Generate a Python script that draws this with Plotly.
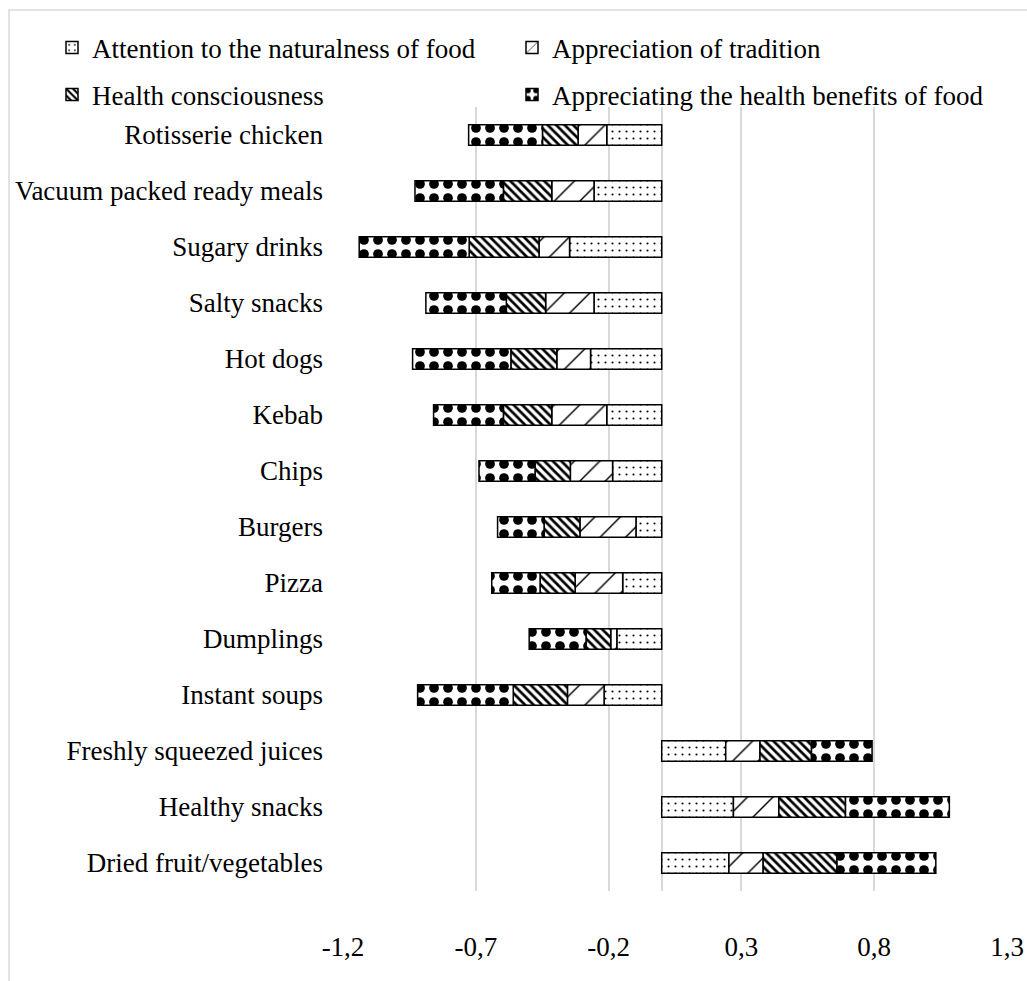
import plotly.graph_objects as go

categories = ["Rotisserie chicken", "Vacuum packed ready meals", "Sugary drinks", "Salty snacks",
              "Hot dogs", "Kebab", "Chips", "Burgers", "Pizza", "Dumplings", "Instant soups",
              "Freshly squeezed juices", "Healthy snacks", "Dried fruit/vegetables"]

naturalness = [-0.207, -0.255, -0.347, -0.255, -0.268, -0.207, -0.185, -0.097, -0.147, -0.169, -0.217,
               0.241, 0.270, 0.253]
tradition = [-0.108, -0.159, -0.115, -0.182, -0.127, -0.207, -0.159, -0.211, -0.179, -0.023, -0.138,
             0.129, 0.171, 0.129]
health_consciousness = [-0.134, -0.182, -0.263, -0.148, -0.173, -0.182, -0.133, -0.135, -0.132, -0.093, -0.204,
                        0.194, 0.251, 0.278]
health_benefits = [-0.278, -0.333, -0.414, -0.303, -0.370, -0.263, -0.211, -0.175, -0.182, -0.214, -0.360,
                   0.228, 0.391, 0.372]

series_names = ["Attention to the naturalness of food", "Appreciation of tradition",
                "Health consciousness", "Appreciating the health benefits of food"]
tick_vals = [-1.2, -0.7, -0.2, 0.3, 0.8, 1.3]
tick_text = ["-1,2", "-0,7", "-0,2", "0,3", "0,8", "1,3"]

FONT = "Liberation Serif, Times New Roman, serif"
FS = 27
patterns = [
    dict(shape=".", size=7, solidity=0.07, fgcolor="black", bgcolor="white", fgopacity=1),
    dict(shape="/", size=18, solidity=0.08, fgcolor="black", bgcolor="white", fgopacity=1),
    dict(shape="\\", size=6, solidity=0.45, fgcolor="black", bgcolor="white", fgopacity=1),
    dict(shape=".", size=14, solidity=0.38, fgcolor="black", bgcolor="white", fgopacity=1),
]
legend_ids = ["legend", "legend2", "legend3", "legend4"]

fig = go.Figure()
for name, vals, pat, lg in zip(series_names, [naturalness, tradition, health_consciousness, health_benefits],
                               patterns, legend_ids):
    fig.add_trace(go.Bar(
        y=categories, x=vals, name=name, orientation="h",
        marker=dict(color="white", line=dict(color="black", width=1.5), pattern=pat),
        legend=lg,
    ))

W, H = 1027, 981
L, R, T, B = 343, 1027 - 1007, 107, 981 - 891
pw, ph = W - L - R, H - T - B

def px_x(p):
    return (p - L) / pw

def px_y(p):
    return (H - B - p) / ph

legend_pos = [(52, 48), (512, 48), (52, 95), (512, 95)]
legend_layout = {}
for lg, (lx, ly) in zip(legend_ids, legend_pos):
    legend_layout[lg] = dict(orientation="h", x=px_x(lx), y=px_y(ly), xanchor="left", yanchor="middle",
                             font=dict(family=FONT, size=FS), bgcolor="rgba(0,0,0,0)")

fig.update_layout(
    width=W, height=H,
    margin=dict(l=L, r=R, t=T, b=B, autoexpand=False),
    barmode="relative", bargap=0.63,
    plot_bgcolor="white", paper_bgcolor="white",
    font=dict(family=FONT, size=FS, color="black"),
    xaxis=dict(range=[-1.2, 1.3], tickvals=tick_vals, ticktext=tick_text,
               showgrid=True, gridcolor="#d9d9d9", gridwidth=1.5,
               zeroline=True, zerolinecolor="#d9d9d9", zerolinewidth=1.5,
               showline=False, ticks="", ticklabelstandoff=37, automargin=False,
               tickfont=dict(family=FONT, size=FS)),
    yaxis=dict(autorange="reversed", showgrid=False, zeroline=False, showline=False,
               ticks="", ticklabelstandoff=19, automargin=False,
               tickfont=dict(family=FONT, size=FS)),
    showlegend=True,
    shapes=[dict(type="rect", xref="paper", yref="paper",
                 x0=px_x(9), x1=px_x(1060), y0=px_y(1010), y1=px_y(10),
                 line=dict(color="#d9d9d9", width=1.5), fillcolor="rgba(0,0,0,0)", layer="below")],
    **legend_layout,
)

fig.write_html("out.html", config={"displayModeBar": False},
               post_script="document.body.style.margin='0px';document.body.style.overflow='hidden';")
